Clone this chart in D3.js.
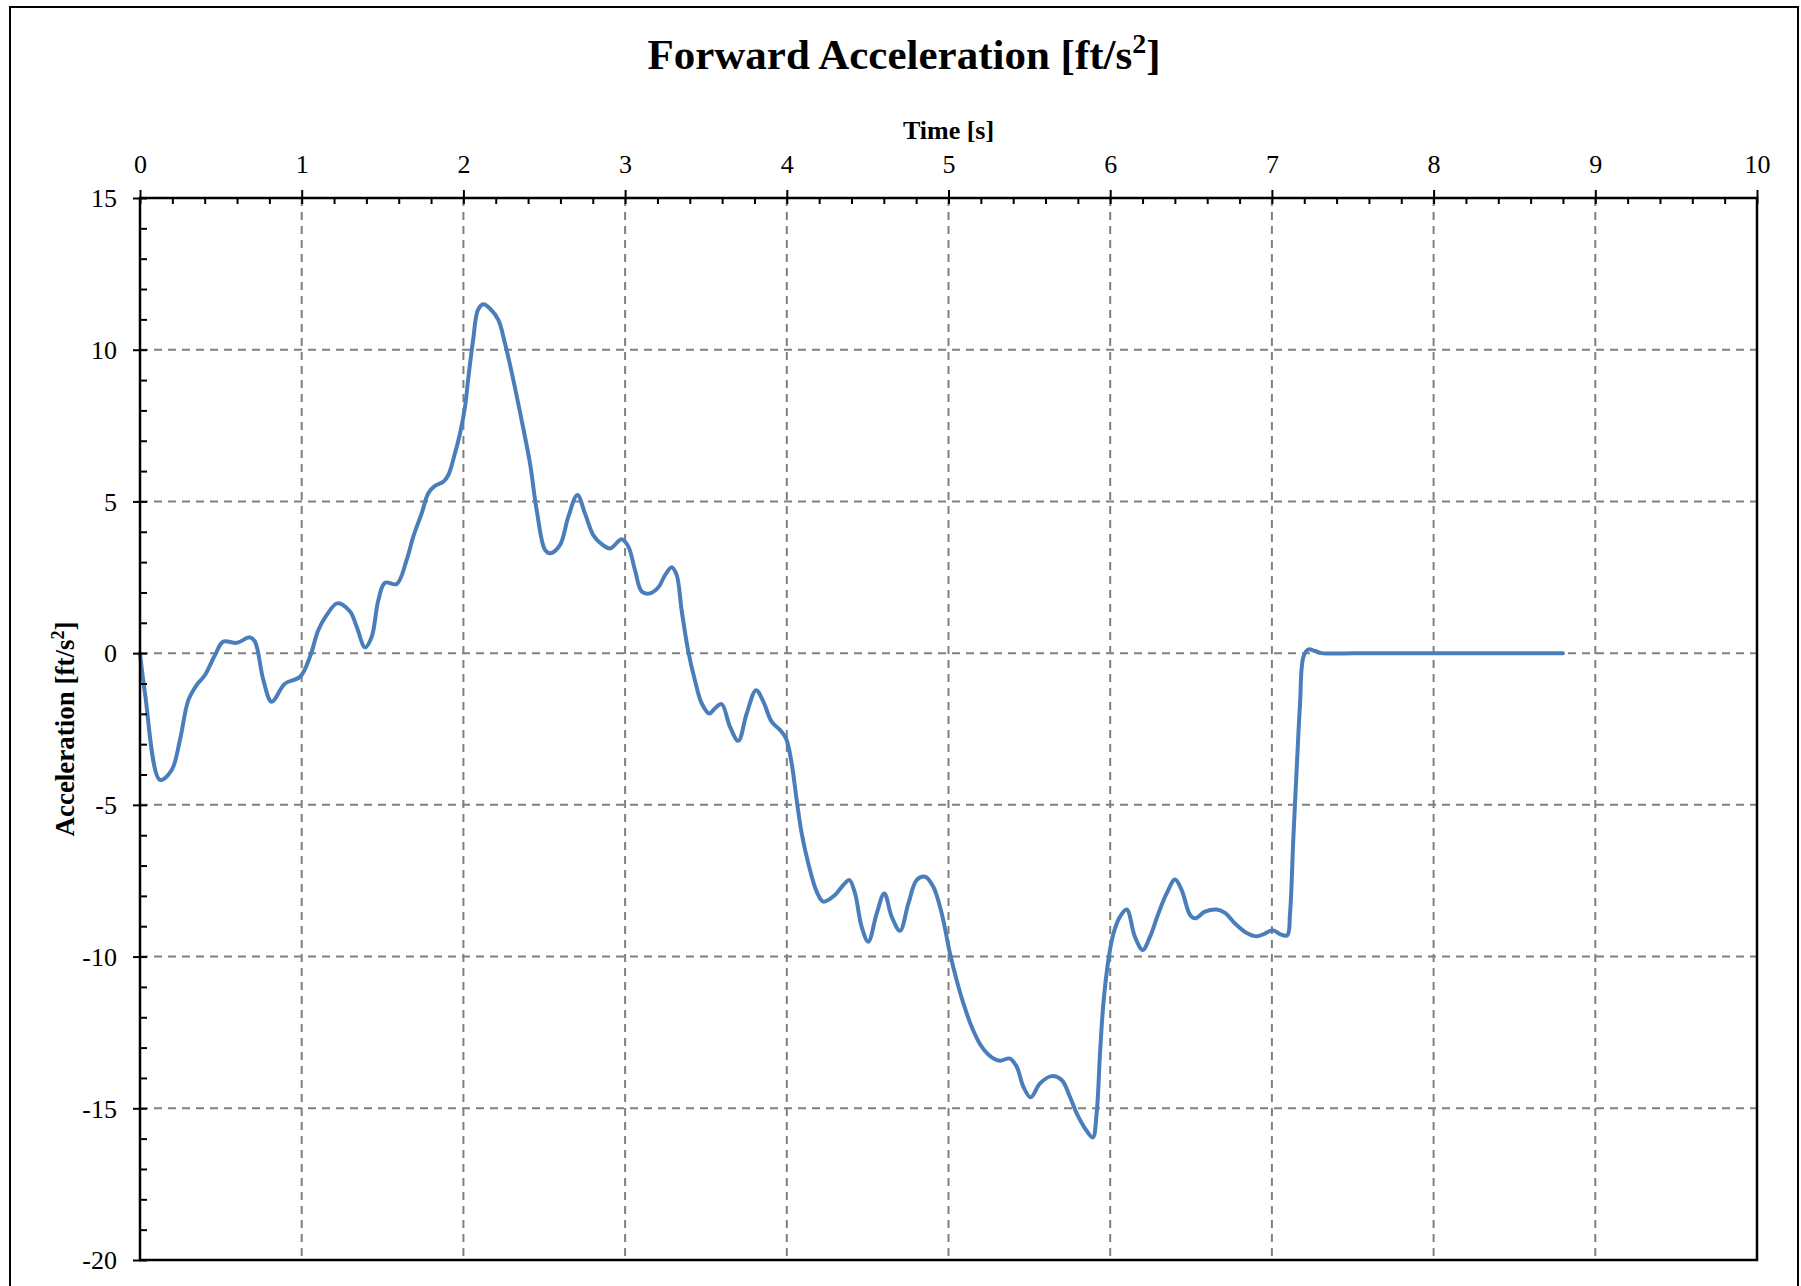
<!DOCTYPE html>
<html>
<head>
<meta charset="utf-8">
<script src="https://cdn.jsdelivr.net/npm/d3@7/dist/d3.min.js"></script>
<style>
  html, body { margin: 0; padding: 0; background: #fff; }
  svg { display: block; }
  text { font-family: "Liberation Serif", "Times New Roman", serif; fill: #000; }
</style>
</head>
<body>
<svg id="chart" width="1801" height="1286"></svg>
<script>
// Time axis ticks [s] and acceleration axis ticks [ft/s^2]
const xTickValues = [0, 1, 2, 3, 4, 5, 6, 7, 8, 9, 10];
const yTickValues = [15, 10, 5, 0, -5, -10, -15, -20];
const xGridValues = [1, 2, 3, 4, 5, 6, 7, 8, 9];
const yGridValues = [10, 5, 0, -5, -10, -15];

// Recorded forward acceleration samples
const times = [
  0.000, 0.031, 0.124, 0.196, 0.247, 0.299, 0.350, 0.402, 0.464, 0.515,
  0.598, 0.680, 0.711, 0.763, 0.814, 0.897, 0.990, 1.051, 1.103, 1.155,
  1.220, 1.299, 1.340, 1.392, 1.433, 1.474, 1.515, 1.587, 1.649, 1.690,
  1.742, 1.783, 1.824, 1.876, 1.907, 1.942, 1.979, 2.010, 2.030, 2.060,
  2.090, 2.123, 2.164, 2.216, 2.257, 2.309, 2.360, 2.412, 2.453, 2.505,
  2.536, 2.597, 2.649, 2.705, 2.752, 2.803, 2.855, 2.907, 2.979, 3.020,
  3.061, 3.103, 3.154, 3.206, 3.247, 3.288, 3.319, 3.350, 3.391, 3.432,
  3.474, 3.521, 3.556, 3.597, 3.649, 3.700, 3.752, 3.810, 3.855, 3.906,
  3.958, 3.995, 4.030, 4.061, 4.092, 4.133, 4.185, 4.226, 4.298, 4.350,
  4.387, 4.422, 4.463, 4.504, 4.556, 4.603, 4.649, 4.700, 4.752, 4.803,
  4.855, 4.906, 4.958, 5.009, 5.050, 5.092, 5.143, 5.205, 5.267, 5.318,
  5.380, 5.422, 5.463, 5.508, 5.566, 5.638, 5.700, 5.751, 5.793, 5.844,
  5.892, 5.916, 5.937, 5.958, 5.989, 6.020, 6.060, 6.102, 6.153, 6.201,
  6.246, 6.298, 6.349, 6.401, 6.442, 6.494, 6.525, 6.586, 6.659, 6.710,
  6.772, 6.844, 6.906, 6.957, 7.005, 7.050, 7.095, 7.112, 7.133, 7.153,
  7.174, 7.195, 7.225, 7.267, 7.308, 7.500, 8.000, 8.500, 8.800
];
const accel = [
   0.00, -1.33, -4.18, -3.85, -2.86, -1.55, -1.05, -0.72, -0.06,  0.38,
   0.34,  0.52,  0.38, -0.89, -1.60, -1.00, -0.78, -0.12,  0.76,  1.26,
   1.64,  1.37,  0.87,  0.19,  0.54,  1.75,  2.32,  2.28,  3.07,  3.84,
   4.61,  5.27,  5.51,  5.65,  5.87,  6.47,  7.24,  8.12,  9.05, 10.32,
  11.31, 11.50, 11.36, 10.98, 10.21,  9.00,  7.68,  6.25,  4.72,  3.40,
   3.29,  3.56,  4.50,  5.21,  4.60,  3.89,  3.59,  3.45,  3.75,  3.51,
   2.74,  2.03,  1.97,  2.17,  2.57,  2.83,  2.57,  1.40,  0.05, -0.90,
  -1.66, -1.99, -1.82, -1.68, -2.43, -2.89, -1.99, -1.22, -1.60, -2.26,
  -2.53, -2.81, -3.63, -4.84, -5.94, -6.93, -7.86, -8.19, -7.97, -7.64,
  -7.48, -7.92, -9.02, -9.51, -8.58, -7.92, -8.69, -9.15, -8.25, -7.48,
  -7.37, -7.70, -8.58, -9.89,-10.77,-11.54,-12.31,-12.97,-13.32,-13.43,
 -13.36,-13.63,-14.29,-14.64,-14.18,-13.94,-14.07,-14.62,-15.17,-15.66,
 -15.96,-15.17,-13.19,-11.54,-10.11, -9.24, -8.69, -8.45, -9.35, -9.78,
  -9.35, -8.58, -7.92, -7.46, -7.81, -8.63, -8.74, -8.52, -8.45, -8.56,
  -8.91, -9.22, -9.33, -9.24, -9.13, -9.26, -9.30, -8.58, -6.06, -3.85,
  -1.66, -0.12,  0.12,  0.07,  0.00,  0.00,  0.00,  0.00,  0.00
];

const svg = d3.select("#chart");
const W = 1801, H = 1286;
const plot = { left: 140, right: 1757, top: 198, bottom: 1260 };

svg.append("rect").attr("width", W).attr("height", H).attr("fill", "#fff");

// Outer chart border
svg.append("rect")
  .attr("x", 10).attr("y", 7)
  .attr("width", 1788).attr("height", 1300)
  .attr("fill", "none").attr("stroke", "#000").attr("stroke-width", 2);

const x = d3.scaleLinear().domain([0, 10]).range([plot.left, plot.right]);
const y = d3.scaleLinear().domain([-20, 15]).range([plot.bottom, plot.top]);

// Dashed grid
const grid = svg.append("g").attr("stroke", "#808080").attr("stroke-width", 2)
  .attr("stroke-dasharray", "8,6").attr("fill", "none");
grid.selectAll("line.v").data(xGridValues).join("line").attr("class", "v")
  .attr("x1", d => x(d)).attr("x2", d => x(d))
  .attr("y1", plot.top).attr("y2", plot.bottom);
grid.selectAll("line.h").data(yGridValues).join("line").attr("class", "h")
  .attr("x1", plot.left).attr("x2", plot.right)
  .attr("y1", d => y(d)).attr("y2", d => y(d));

// Acceleration trace
const pts = d3.zip(times, accel);
const line = d3.line()
  .x(d => x(d[0]))
  .y(d => y(d[1]))
  .curve(d3.curveCatmullRom.alpha(0.5));
svg.append("path")
  .datum(pts)
  .attr("d", line)
  .attr("fill", "none")
  .attr("stroke", "#4a7ebb")
  .attr("stroke-width", 4)
  .attr("stroke-linejoin", "round")
  .attr("stroke-linecap", "round");

// Plot frame
svg.append("rect")
  .attr("x", plot.left).attr("y", plot.top)
  .attr("width", plot.right - plot.left).attr("height", plot.bottom - plot.top)
  .attr("fill", "none").attr("stroke", "#000").attr("stroke-width", 2.5);

// Plain hyphen for negative labels
const fmt = d => String(d);

// Top time axis: major ticks with labels, then inner major + minor ticks
const xMinor = d3.range(0, 50.5, 1).map(i => i / 5);
const xAxisTop = svg.append("g").attr("transform", `translate(0,${plot.top})`)
  .call(d3.axisTop(x).tickValues(xTickValues).tickSize(8).tickPadding(17).tickFormat(fmt));
const xAxisIn = svg.append("g").attr("transform", `translate(0,${plot.top})`)
  .call(d3.axisBottom(x).tickValues(xMinor).tickSize(6).tickFormat(""));

// Left acceleration axis
const yMinor = d3.range(-20, 15.5, 1);
const yAxisLeft = svg.append("g").attr("transform", `translate(${plot.left},0)`)
  .call(d3.axisLeft(y).tickValues(yTickValues).tickSize(7).tickPadding(16).tickFormat(fmt));
const yAxisIn = svg.append("g").attr("transform", `translate(${plot.left},0)`)
  .call(d3.axisRight(y).tickValues(yMinor).tickSize(7).tickFormat(""));

[xAxisTop, xAxisIn, yAxisLeft, yAxisIn].forEach(g => {
  g.select(".domain").remove();
  g.selectAll(".tick line").attr("stroke", "#000").attr("stroke-width", 2);
  g.selectAll(".tick text")
    .attr("font-family", "'Liberation Serif', 'Times New Roman', serif")
    .attr("font-size", 26).attr("fill", "#000");
});
yAxisLeft.selectAll(".tick text").attr("dy", "0.34em");

// Title
const title = svg.append("text")
  .attr("x", 904).attr("y", 69)
  .attr("text-anchor", "middle")
  .attr("font-size", 43).attr("font-weight", "bold");
title.append("tspan").text("Forward Acceleration [ft/s");
title.append("tspan").attr("font-size", 28).attr("dy", -16).text("2");
title.append("tspan").attr("dy", 16).text("]");

// Axis titles
svg.append("text")
  .attr("x", (plot.left + plot.right) / 2).attr("y", 139)
  .attr("text-anchor", "middle")
  .attr("font-size", 26).attr("font-weight", "bold")
  .text("Time [s]");

const yTitle = svg.append("text")
  .attr("transform", `translate(74,${(plot.top + plot.bottom) / 2}) rotate(-90)`)
  .attr("text-anchor", "middle")
  .attr("font-size", 27).attr("font-weight", "bold");
yTitle.append("tspan").text("Acceleration [ft/s");
yTitle.append("tspan").attr("font-size", 18).attr("dy", -10).text("2");
yTitle.append("tspan").attr("dy", 10).text("]");
</script>
</body>
</html>
